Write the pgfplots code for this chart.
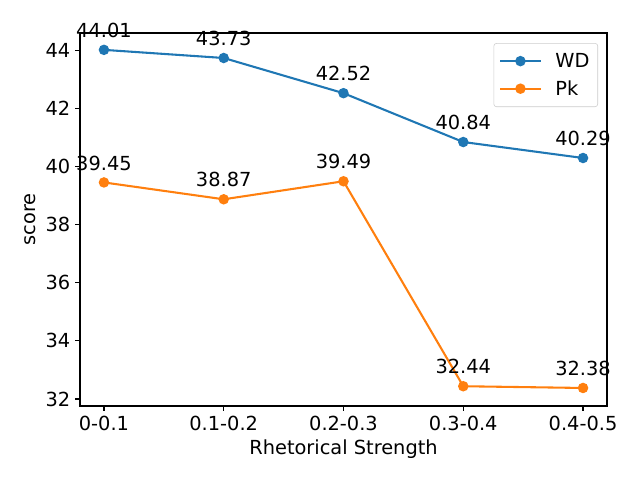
\documentclass[border=0pt]{standalone}
\usepackage{pgfplots}
\pgfplotsset{compat=1.18}
\usepackage{fontspec}
\setmainfont{DejaVu Sans}
\definecolor{c0}{HTML}{1F77B4}
\definecolor{c1}{HTML}{FF7F0E}
\begin{document}
\begin{tikzpicture}
\begin{axis}[
  at={(0,0)}, anchor=south west,
  scale only axis, width=5.27in, height=3.73in,
  xmin=-0.2, xmax=4.2, ymin=31.76, ymax=44.59,
  xtick={0,1,2,3,4},
  xticklabels={0-0.1,0.1-0.2,0.2-0.3,0.3-0.4,0.4-0.5},
  ytick={32,34,36,38,40,42,44},
  /pgf/number format/assume math mode=true,
  tick align=outside, tick pos=left,
  major tick length=3.5pt,
  every tick/.style={black, line width=0.8pt},
  axis line style={line width=0.8pt},
  ticklabel style={font=\fontsize{14}{16}\selectfont},
  xlabel={Rhetorical Strength}, ylabel={score},
  label style={font=\fontsize{14}{16}\selectfont},
  legend style={at={(0.983,0.973)}, anchor=north east, draw=black!20, rounded corners=2pt, font=\fontsize{14}{16}\selectfont, row sep=4pt, inner xsep=4pt, inner ysep=5pt, column sep=8pt},
  legend image code/.code={\draw[mark repeat=2,mark phase=2,#1] plot coordinates {(0pt,0pt) (14.5pt,0pt) (29pt,0pt)};},
  legend cell align=left,
  nodes near coords,
  point meta=explicit symbolic,
  every node near coord/.append style={font=\fontsize{14}{16}\selectfont, black, anchor=south, yshift=8pt, inner sep=0pt},
  clip=false,
]
\addplot[c0, line width=1.5pt, mark=*, mark size=3pt, mark options={solid}] coordinates {
  (0,44.01) [44.01] (1,43.73) [43.73] (2,42.52) [42.52] (3,40.84) [40.84] (4,40.29) [40.29]};
\addlegendentry{WD}
\addplot[c1, line width=1.5pt, mark=*, mark size=3pt] coordinates {
  (0,39.45) [39.45] (1,38.87) [38.87] (2,39.49) [39.49] (3,32.44) [32.44] (4,32.38) [32.38]};
\addlegendentry{Pk}
\end{axis}
\pgfresetboundingbox
\path[use as bounding box] (-0.8in,-0.74in) rectangle (5.6in,4.06in);
\end{tikzpicture}
\end{document}
